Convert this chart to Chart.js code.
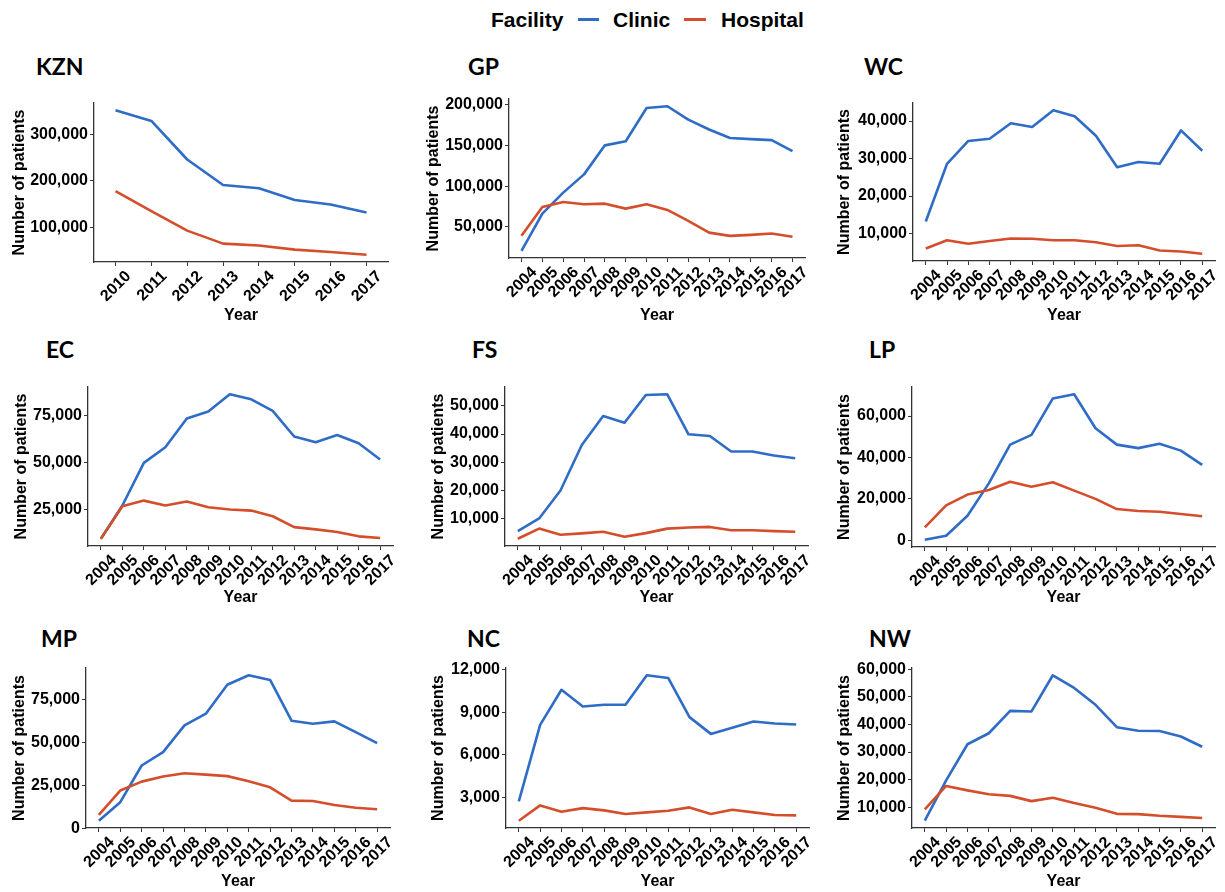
<!DOCTYPE html>
<html><head><meta charset="utf-8">
<script src="https://cdn.jsdelivr.net/npm/chart.js@4.4.1/dist/chart.umd.min.js"></script>
<style>
body{margin:0;background:#fff;width:1225px;height:892px;position:relative;overflow:hidden;font-family:"Liberation Sans",Arial,sans-serif}
canvas{position:absolute}
.ptitle{position:absolute;font-family:Lato,"Open Sans",sans-serif;font-weight:700;font-size:23px;line-height:23px;color:#000;white-space:nowrap}
.leg{position:absolute;font-family:"Liberation Sans",Arial,sans-serif;font-weight:700;font-size:21px;line-height:21px;top:9px;color:#000;white-space:nowrap}
.legline{position:absolute;height:3px;top:18px}
</style></head><body>
<div class="leg" style="left:491px">Facility</div>
<div class="legline" style="left:578px;width:21px;background:#2E6CC6"></div>
<div class="leg" style="left:613px">Clinic</div>
<div class="legline" style="left:684px;width:22px;background:#D44E2C"></div>
<div class="leg" style="left:721px">Hospital</div>
<script>
// ---- categories ----
const yearsKZN = [2010, 2011, 2012, 2013, 2014, 2015, 2016, 2017];
const yearsAll = [2004, 2005, 2006, 2007, 2008, 2009, 2010, 2011, 2012, 2013, 2014, 2015, 2016, 2017];
const seriesNames = ['Clinic', 'Hospital'];

// ---- series values ----
const kznClinic   = [352000, 329000, 246000, 191000, 184000, 159000, 149000, 132000];
const kznHospital = [178000, 135000, 93000, 65000, 61000, 52000, 47000, 41000];

const gpClinic   = [20700, 66300, 92000, 114400, 150000, 155000, 195800, 198000, 181600, 169400, 159000, 157600, 156400, 142900];
const gpHospital = [39000, 74500, 80600, 77700, 78500, 72400, 77700, 70800, 57300, 43000, 39000, 40200, 41800, 37800];

const wcClinic   = [13200, 28600, 34700, 35300, 39400, 38400, 42900, 41300, 36100, 27700, 29100, 28600, 37500, 32100];
const wcHospital = [6000, 8200, 7300, 8000, 8700, 8600, 8200, 8200, 7700, 6700, 6900, 5500, 5200, 4600];

const ecClinic   = [9600, 27300, 50000, 58300, 73600, 77300, 86500, 83800, 77600, 64000, 61000, 64800, 60400, 51800];
const ecHospital = [9600, 26900, 29900, 27300, 29400, 26400, 25200, 24600, 21600, 15800, 14600, 13200, 10900, 10000];

const fsClinic   = [5600, 10100, 20000, 36100, 46400, 44000, 53800, 54100, 39900, 39300, 33800, 33800, 32400, 31400];
const fsHospital = [2900, 6500, 4300, 4800, 5400, 3600, 4900, 6500, 6900, 7100, 5900, 5900, 5600, 5400];

const lpClinic   = [300, 2250, 11900, 27500, 46200, 50900, 68500, 70500, 54100, 46200, 44500, 46600, 43300, 36400];
const lpHospital = [6300, 16900, 22100, 24300, 28300, 25900, 28000, 24000, 20000, 15100, 14200, 13800, 12700, 11600];

const mpClinic   = [4500, 15300, 36700, 44500, 60100, 66900, 83800, 89300, 86600, 62800, 61000, 62400, 56200, 49700];
const mpHospital = [7900, 22100, 27300, 30300, 32200, 31400, 30500, 27500, 24000, 16200, 16000, 13700, 12100, 11200];

const ncClinic   = [2720, 8100, 10580, 9400, 9520, 9520, 11600, 11410, 8650, 7470, 7910, 8340, 8200, 8130];
const ncHospital = [1350, 2430, 1980, 2240, 2080, 1820, 1940, 2050, 2290, 1820, 2120, 1940, 1750, 1730];

const nwClinic   = [5100, 19700, 32800, 36800, 44900, 44700, 57800, 53200, 47100, 39000, 37700, 37600, 35600, 31900];
const nwHospital = [9200, 17700, 16100, 14700, 14100, 12200, 13400, 11500, 9800, 7600, 7500, 6900, 6500, 6100];

// ---- tick labels (y) ----
const kznTicks = [100000, 200000, 300000];
const gpTicks  = [50000, 100000, 150000, 200000];
const wcTicks  = [10000, 20000, 30000, 40000];
const ecTicks  = [25000, 50000, 75000];
const fsTicks  = [10000, 20000, 30000, 40000, 50000];
const lpTicks  = [0, 20000, 40000, 60000];
const mpTicks  = [0, 25000, 50000, 75000];
const ncTicks  = [3000, 6000, 9000, 12000];
const nwTicks  = [10000, 20000, 30000, 40000, 50000, 60000];

// ---- panel titles ----
const panelNames = ['KZN', 'GP', 'WC', 'EC', 'FS', 'LP', 'MP', 'NC', 'NW'];

// ---- styles & layout ----
const CLINIC_COLOR = '#2E6CC6';
const HOSPITAL_COLOR = '#D44E2C';
const TICK_FONT = {family: '"Liberation Sans", Arial, sans-serif', size: 16, weight: 'bold'};
const TITLE_FONT = {family: '"Liberation Sans", Arial, sans-serif', size: 16, weight: 'bold'};

const panels = [
  {name: 'KZN', years: yearsKZN, clinic: kznClinic, hospital: kznHospital, ticks: kznTicks, cl: 10, left: 94, right: 388, top: 103, bottom: 262, year: 315, tx: 36, ty: 55},
  {name: 'GP', years: yearsAll, clinic: gpClinic, hospital: gpHospital, ticks: gpTicks, cl: 424, left: 509, right: 805, top: 99, bottom: 258, year: 315, tx: 468, ty: 55},
  {name: 'WC', years: yearsAll, clinic: wcClinic, hospital: wcHospital, ticks: wcTicks, cl: 835, left: 913, right: 1215, top: 103, bottom: 261, year: 315, tx: 864, ty: 55},
  {name: 'EC', years: yearsAll, clinic: ecClinic, hospital: ecHospital, ticks: ecTicks, cl: 12, left: 88, right: 393, top: 387, bottom: 546, year: 597, tx: 46, ty: 338},
  {name: 'FS', years: yearsAll, clinic: fsClinic, hospital: fsHospital, ticks: fsTicks, cl: 429, left: 505, right: 808, top: 387, bottom: 546, year: 597, tx: 472, ty: 338},
  {name: 'LP', years: yearsAll, clinic: lpClinic, hospital: lpHospital, ticks: lpTicks, cl: 835, left: 912, right: 1215, top: 387, bottom: 547, year: 597, tx: 869, ty: 338},
  {name: 'MP', years: yearsAll, clinic: mpClinic, hospital: mpHospital, ticks: mpTicks, cl: 10, left: 86, right: 390, top: 668, bottom: 828, year: 881, tx: 41, ty: 627},
  {name: 'NC', years: yearsAll, clinic: ncClinic, hospital: ncHospital, ticks: ncTicks, cl: 429, left: 506, right: 809, top: 668, bottom: 828, year: 881, tx: 467, ty: 627},
  {name: 'NW', years: yearsAll, clinic: nwClinic, hospital: nwHospital, ticks: nwTicks, cl: 835, left: 912, right: 1215, top: 668, bottom: 828, year: 881, tx: 869, ty: 627}
];

function makePanel(p) {
  const padTop = 12, padRight = 10;
  const canvasTop = p.top - padTop;
  const canvasBottom = p.year + 10;
  const w = p.right + padRight - p.cl;
  const h = canvasBottom - canvasTop;
  const yw = p.left - p.cl;
  const xh = canvasBottom - p.bottom;

  const t = document.createElement('div');
  t.className = 'ptitle';
  t.style.left = p.tx + 'px';
  t.style.top = p.ty + 'px';
  t.textContent = p.name;
  document.body.appendChild(t);

  const c = document.createElement('canvas');
  c.width = w; c.height = h;
  c.style.left = p.cl + 'px';
  c.style.top = canvasTop + 'px';
  c.style.width = w + 'px';
  c.style.height = h + 'px';
  document.body.appendChild(c);

  const all = p.clinic.concat(p.hospital);
  const dmin = Math.min.apply(null, all), dmax = Math.max.apply(null, all);
  const ex = (dmax - dmin) * 0.05;
  const years = p.years;

  new Chart(c, {
    type: 'line',
    data: {
      datasets: [
        {label: seriesNames[0], data: years.map((y, i) => ({x: y, y: p.clinic[i]})), borderColor: CLINIC_COLOR, backgroundColor: CLINIC_COLOR, order: 1},
        {label: seriesNames[1], data: years.map((y, i) => ({x: y, y: p.hospital[i]})), borderColor: HOSPITAL_COLOR, backgroundColor: HOSPITAL_COLOR, order: 0}
      ]
    },
    options: {
      responsive: false,
      animation: false,
      devicePixelRatio: 1,
      layout: {padding: {top: padTop, right: padRight, left: 0, bottom: 0}},
      plugins: {legend: {display: false}, tooltip: {enabled: false}, title: {display: false}},
      elements: {
        point: {radius: 0, hoverRadius: 0},
        line: {tension: 0, borderWidth: 2.6, borderJoinStyle: 'round', borderCapStyle: 'butt', fill: false}
      },
      scales: {
        x: {
          type: 'linear',
          bounds: 'data',
          min: years[0] - 0.6,
          max: years[years.length - 1] + 0.6,
          afterBuildTicks: s => { s.ticks = years.map(v => ({value: v})); },
          afterFit: s => { s.height = xh; s.paddingLeft = 0; s.paddingRight = 0; },
          ticks: {autoSkip: false, minRotation: 45, maxRotation: 45, labelOffset: 13, padding: 1, color: '#000', font: TICK_FONT, callback: v => String(v)},
          grid: {drawOnChartArea: false, drawTicks: true, tickLength: 4, color: '#333', lineWidth: 1},
          border: {display: true, color: '#333', width: 1.3},
          title: {display: true, text: 'Year', color: '#000', font: TITLE_FONT, padding: 0}
        },
        y: {
          type: 'linear',
          bounds: 'data',
          min: dmin - ex,
          max: dmax + ex,
          afterBuildTicks: s => { s.ticks = p.ticks.map(v => ({value: v})); },
          afterFit: s => { s.width = yw; s.paddingTop = 0; s.paddingBottom = 0; },
          ticks: {autoSkip: false, padding: 2, color: '#000', font: TICK_FONT, callback: v => Number(v).toLocaleString('en-US')},
          grid: {drawOnChartArea: false, drawTicks: true, tickLength: 4, color: '#333', lineWidth: 1},
          border: {display: true, color: '#333', width: 1.3},
          title: {display: true, text: 'Number of patients', color: '#000', font: TITLE_FONT, padding: 0}
        }
      }
    }
  });
}

panels.forEach(makePanel);
</script>
</body></html>
